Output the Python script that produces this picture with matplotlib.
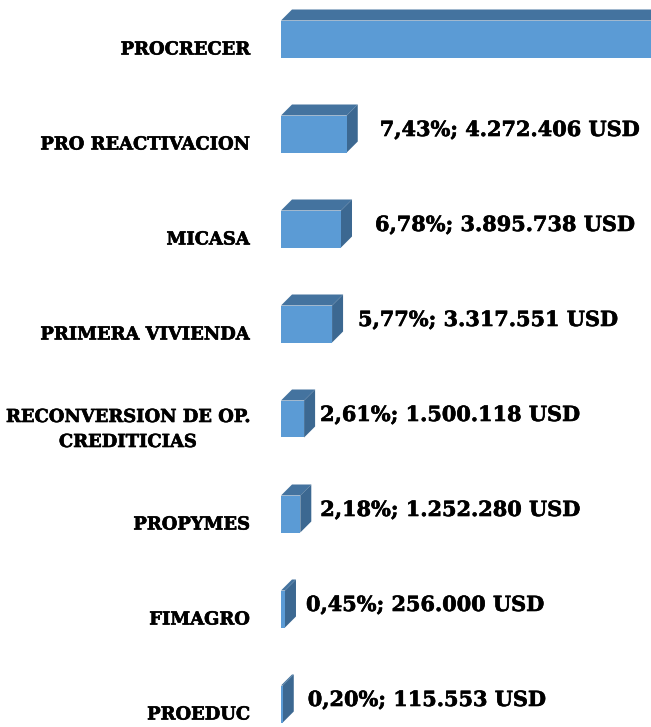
import matplotlib.pyplot as plt
import matplotlib.patheffects as pe
from matplotlib.patches import Polygon

# datos (de arriba hacia abajo)
programas = ["PROCRECER", "PRO REACTIVACION", "MICASA", "PRIMERA VIVIENDA",
             "RECONVERSION DE OP.\nCREDITICIAS", "PROPYMES", "FIMAGRO", "PROEDUC"]
porcentajes = [74.58, 7.43, 6.78, 5.77, 2.61, 2.18, 0.45, 0.20]
montos_usd = [None, "4.272.406", "3.895.738", "3.317.551", "1.500.118",
              "1.252.280", "256.000", "115.553"]

# escala: px por unidad en cada eje
W, H = 651, 727
px_x = 8.85
px_y = 95.0
x0_px, y0_px = 281, 39

fig = plt.figure(figsize=(W / 100, H / 100), dpi=100)
ax = fig.add_axes([0, 0, 1, 1])
ax.set_xlim(-x0_px / px_x, (W - x0_px) / px_x)
ax.set_ylim((H - y0_px) / px_y, -y0_px / px_y)
ax.axis("off")

alto = 37 / px_y
dx = 11 / px_x
dy = 11 / px_y
c_frente = "#5b9bd5"
c_techo = "#44739f"
c_lado = "#3c6891"

fuente = "DejaVu Serif"
grueso = [pe.withStroke(linewidth=0.45, foreground="black")]
# desplazamiento horizontal de las etiquetas de valor (px)
off_lbl = [0, 33, 34, 26, 16, 20, 21, 25]
pt = 0.72  # px -> puntos

for i, (nombre, p) in enumerate(zip(programas, porcentajes)):
    y_top = i - alto / 2
    y_bot = i + alto / 2
    # cara superior y lateral
    ax.add_patch(Polygon([(0, y_top), (dx, y_top - dy), (p + dx, y_top - dy), (p, y_top)],
                         closed=True, facecolor=c_techo, edgecolor="none"))
    ax.add_patch(Polygon([(p, y_top), (p + dx, y_top - dy), (p + dx, y_bot - dy), (p, y_bot)],
                         closed=True, facecolor=c_lado, edgecolor="none"))
    ax.barh(i, p, height=alto, left=0, color=c_frente, edgecolor="none")

    ax.annotate(nombre, (0, i), xytext=(-31 * pt, -10.5 * pt),
                textcoords="offset points", ha="right", va="center", multialignment="center",
                fontsize=12.9, fontweight="bold", family=fuente, linespacing=1.5,
                path_effects=grueso)

    if montos_usd[i] is not None:
        txt = f"{p:.2f}".replace(".", ",") + "%; " + montos_usd[i] + " USD"
        ax.annotate(txt, (p, i), xytext=(off_lbl[i] * pt, 4 * pt),
                    textcoords="offset points", ha="left", va="center",
                    fontsize=15, fontweight="bold", family=fuente,
                    path_effects=grueso)

fig.savefig("out.png", dpi=100)
